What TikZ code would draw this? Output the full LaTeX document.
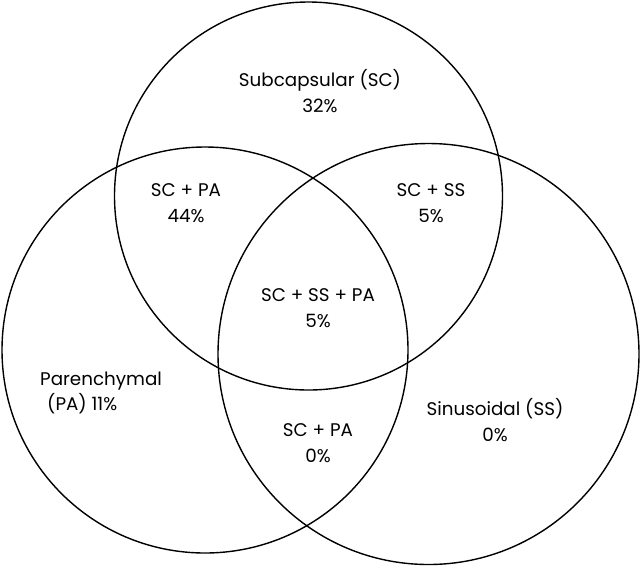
\documentclass[tikz,border=0pt]{standalone}
\usepackage{fontspec}
\setmainfont{Poppins}
\begin{document}
\begin{tikzpicture}[x=1pt,y=-1pt,
  ring/.style={draw=black,line width=1.4pt},
  lbl/.style={align=center,font=\fontsize{18.3}{25.5}\selectfont,inner sep=0pt}]
\useasboundingbox (0,0) rectangle (640,566);
\node[ring,circle,minimum size=388pt,inner sep=0pt] (sc) at (308.5,196) {};
\node[ring,circle,minimum size=406pt,inner sep=0pt] (pa) at (205,350) {};
\node[ring,circle,minimum size=421pt,inner sep=0pt] (ss) at (428.5,354) {};
\node[lbl] (tsc) at (320,91) {Subcapsular (SC)\\32\%};
\node[lbl] (tscpa) at (186,203) {SC + PA\\44\%};
\node[lbl] (tscss) at (431,203) {SC + SS\\5\%};
\node[lbl] (tall) at (318,308) {SC + SS + PA\\5\%};
\node[lbl,align=left,anchor=west] (tpa) at (40,393) {Parenchymal\\\hspace*{7pt}(PA) 11\%};
\node[lbl] (tpass) at (318,443) {SC + PA\\0\%};
\node[lbl] (tss) at (495,420) {Sinusoidal (SS)\\0\%};
\end{tikzpicture}
\end{document}
